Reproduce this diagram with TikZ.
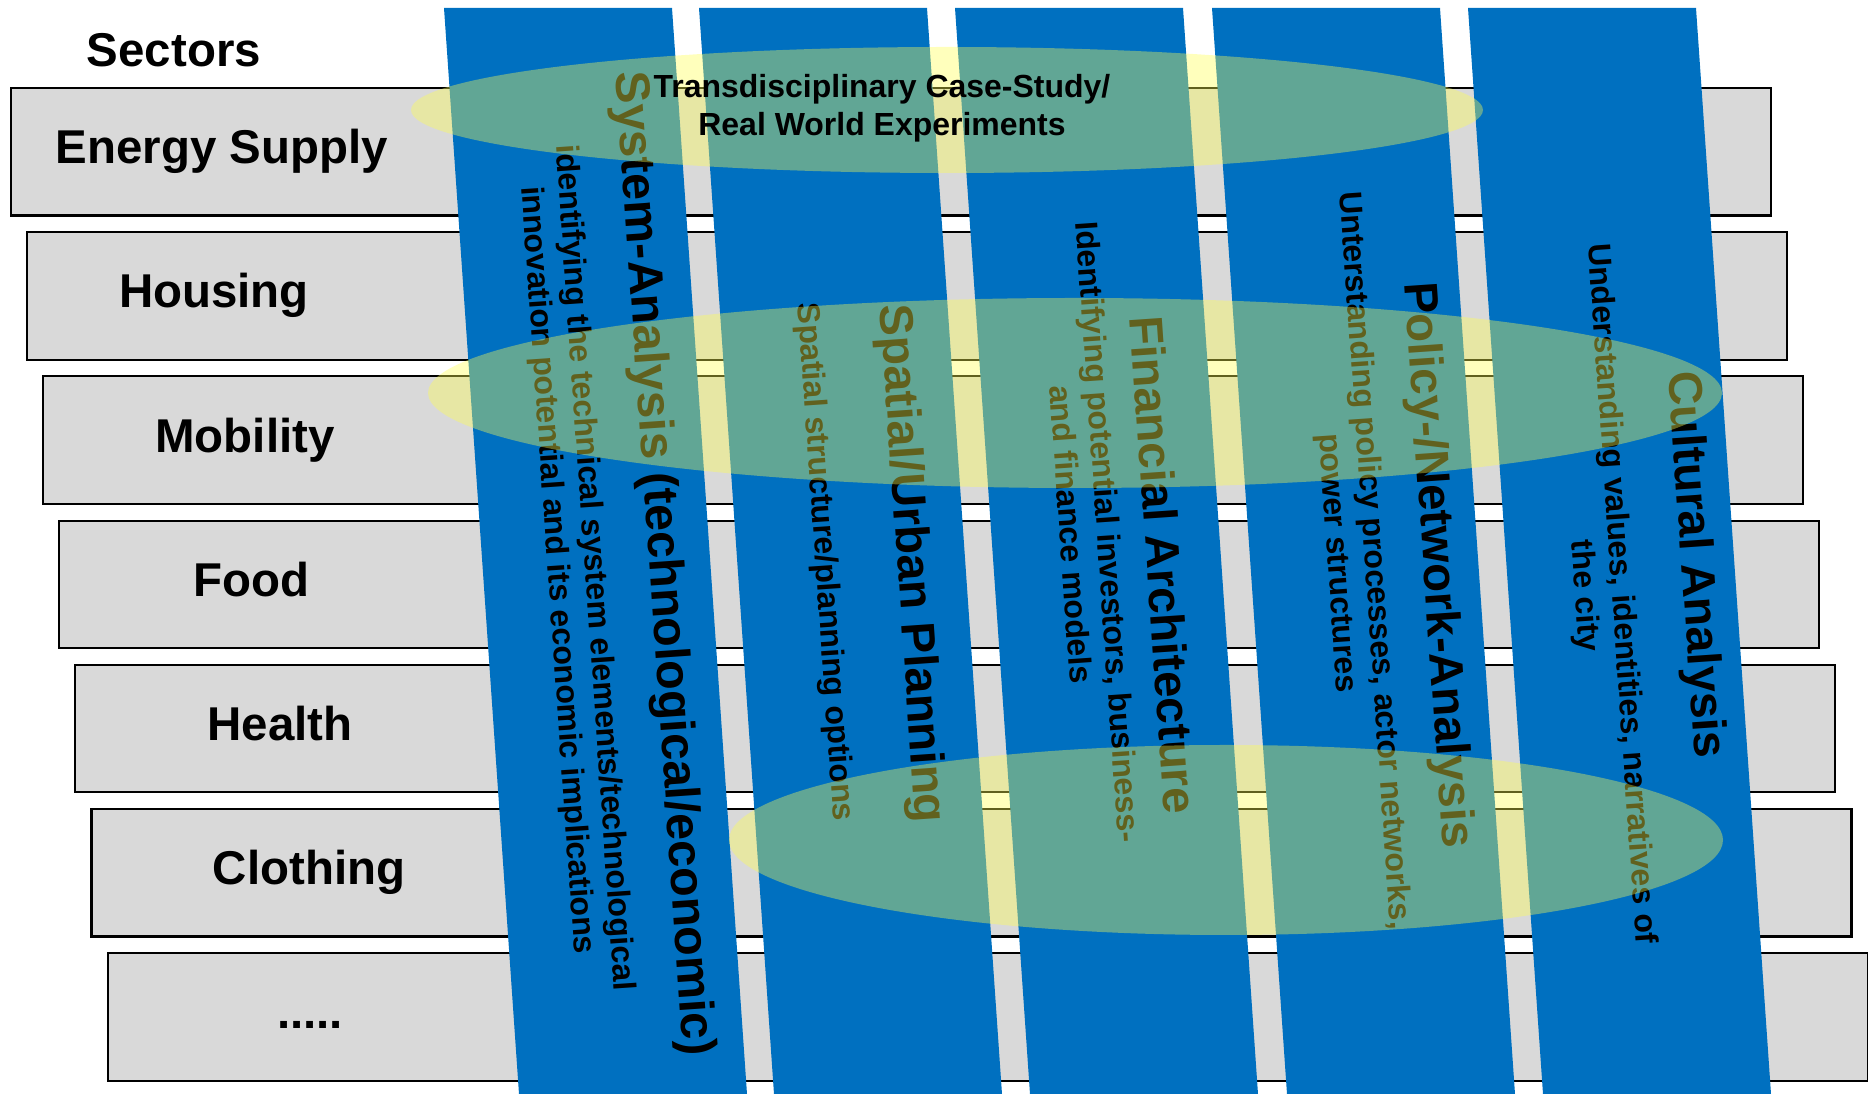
\documentclass[tikz,border=0pt]{standalone}
\usepackage{fontspec}
\setmainfont{Liberation Sans}
\definecolor{Band}{RGB}{0,112,192}
\definecolor{Sector}{RGB}{217,217,217}
\definecolor{Glow}{RGB}{255,255,80}
\newcommand\moredots{.....}

\begin{document}
\begin{tikzpicture}[
  x=0.1mm,
  y=-0.1mm,
  inner sep=0mm,
  sector/.style={draw=black, line width=0.6pt, fill=Sector},
  sectorname/.style={font=\fontsize{13.5}{16}\selectfont\bfseries,
    text height=0.75em, text depth=0.25em},
  band/.style={fill=Band},
  head/.style={rotate=-86.05, font=\fontsize{13.5}{16}\selectfont\bfseries},
  note/.style={rotate=-86.05, align=center,
    font=\fontsize{9.1}{10.6}\selectfont\bfseries},
  glow/.style={fill=Glow, fill opacity=0.38}
  ]
\useasboundingbox (0,0) rectangle (1868,1094);
\clip (0,0) rectangle (1868,1094);
\node[sectorname] (sectors) at (174,58) {Sectors};
\foreach \name/\word/\cx [count=\i from 0] in {
  energy/Energy Supply/222, housing/Housing/214, mobility/Mobility/245,
  food/Food/251, health/Health/280, clothing/Clothing/309, more/\moredots/310}{
  \draw[sector] (11+16.1*\i,88+144.2*\i) rectangle ++(1760,127.5);
  \node[sectorname] (\name) at (\cx,155+144.2*\i) {\word};}
\foreach \x in {444,699,955,1212,1468}
  \fill[band] (\x,8) --++(228,0) --++(75,1086) --++(-228,0) -- cycle;
\draw
  (662,564) node[head, font=\fontsize{13.8}{16}\selectfont\bfseries] (system)
    {System-Analysis (technological/economic)}
  (575,569) node[note] (systemnote) {identifying the technical system elements/technological\\
    innovation potential and its economic implications}
  (910,564) node[head] (spatial) {Spatial/Urban Planning}
  (824,562) node[note] (spatialnote) {Spatial structure/planning options}
  (1164,565) node[head] (finance) {Financial Architecture}
  (1090,533) node[note] (financenote) {Identifying potential investors, business-\\
    and finance models}
  (1436,565) node[head] (policy) {Policy-/Network-Analysis}
  (1355,562) node[note] (policynote) {Unterstanding policy processes, actor networks,\\
    power structures}
  (1694,565) node[head] (culture) {Cultural Analysis}
  (1602,595) node[note] (culturenote) {Understanding values, identities, narratives of\\
    the city}
  ;
\fill[glow] (947,110) ellipse [x radius=536, y radius=63];
\fill[glow] (1075,393) ellipse [x radius=647, y radius=95];
\fill[glow] (1226,840) ellipse [x radius=497, y radius=95];
\node[align=center, font=\fontsize{9.1}{10.8}\selectfont\bfseries] (casestudy)
  at (882,108) {Transdisciplinary Case-Study/\\Real World Experiments};
\end{tikzpicture}
\end{document}
